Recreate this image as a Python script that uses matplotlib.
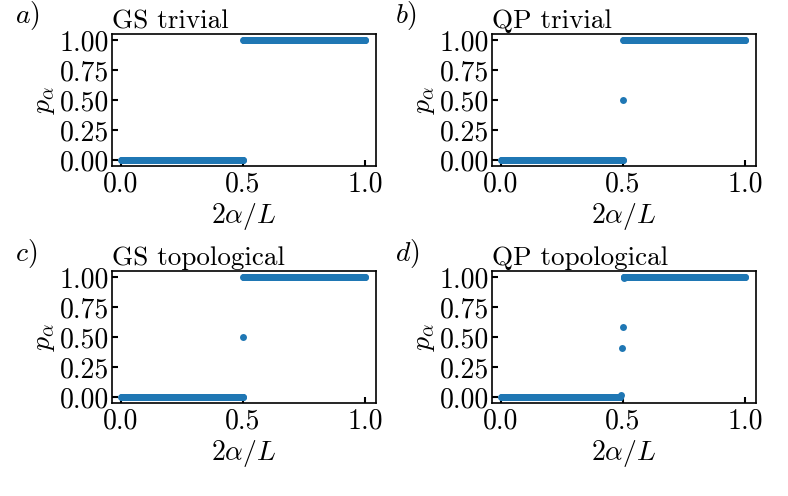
import numpy as np
import matplotlib
matplotlib.use("Agg")
import matplotlib.pyplot as plt

plt.rcParams['font.family'] = 'serif'
plt.rcParams['font.serif'] = ['cmr10', 'DejaVu Serif']
plt.rcParams['mathtext.fontset'] = 'cm'
plt.rcParams['axes.formatter.use_mathtext'] = True
plt.rcParams['font.size'] = 20

# --- DATA ---
titles = ["GS trivial", "QP trivial", "GS topological", "QP topological"]
labels = ["a)", "b)", "c)", "d)"]
n_plateau = 250            # points per plateau

# plateaus: (x start, x end, p value) per panel
low_plateau = [(0.0, 0.5, 0.0), (0.0, 0.5, 0.0), (0.0, 0.5, 0.0), (0.0, 0.488, 0.0)]
high_plateau = [(0.5, 1.0, 1.0), (0.5, 1.0, 1.0), (0.5, 1.0, 1.0), (0.502, 1.0, 1.0)]

# isolated points near the transition
extra_x = [[], [0.5], [0.5], [0.493, 0.495, 0.499, 0.502]]
extra_y = [[], [0.5], [0.5], [0.013, 0.4125, 0.5875, 0.99]]

xticks = [0.0, 0.5, 1.0]
yticks = [0.0, 0.25, 0.5, 0.75, 1.0]

# --- PLOT ---
fig = plt.figure(figsize=(7.88, 4.96), dpi=100)
W, H = 788, 496
lefts = [112, 492, 112, 492]
tops = [34, 34, 271, 271]
aw, ah = 264, 132
ms = 5.0

for i in range(4):
    ax = fig.add_axes([lefts[i] / W, 1 - (tops[i] + ah) / H, aw / W, ah / H])
    for (x0, x1, p) in (low_plateau[i], high_plateau[i]):
        xs = np.linspace(x0, x1, n_plateau)
        ax.plot(xs, np.full_like(xs, p), 'o', color='#1f77b4', markersize=ms,
                markeredgewidth=0)
    if extra_x[i]:
        ax.plot(extra_x[i], extra_y[i], 'o', color='#1f77b4', markersize=ms,
                markeredgewidth=0)
    ax.set_xlim(-0.037, 1.045)
    ax.set_ylim(-0.05, 1.05)
    ax.set_xticks(xticks)
    ax.set_xticklabels([f"{t:.1f}" for t in xticks])
    ax.set_yticks(yticks)
    ax.set_yticklabels([f"{t:.2f}" for t in yticks])
    ax.tick_params(direction='in', length=4.5, width=1.5, pad=2)
    ax.tick_params(axis='x', pad=4)
    for sp in ax.spines.values():
        sp.set_linewidth(1.2)
    ax.set_xlabel(r'$2\alpha/L$', labelpad=2)
    ax.set_ylabel(r'$p_\alpha$', labelpad=2)
    ax.set_title(titles[i], loc='left', pad=4, fontsize=19.5)
    lx = lefts[i] - 97
    ly = tops[i] - 18
    fig.text(lx / W, 1 - ly / H, '$' + labels[i] + '$', ha='left', va='center')

fig.savefig("out.png", dpi=100)
